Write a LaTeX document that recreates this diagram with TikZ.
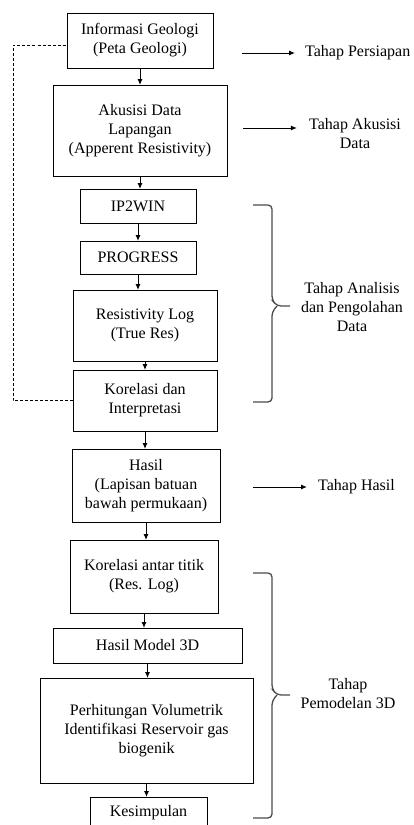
\documentclass[tikz,border=0pt]{standalone}
\usepackage{fontspec}
\setmainfont{Liberation Serif}
\usetikzlibrary{positioning}
\usetikzlibrary{arrows.meta}

\tikzset{
    stepbox/.style = {draw, line width = 1pt, outer sep = 0pt, align = center, inner sep = 2pt, font = \fontsize{16}{19}\selectfont},
    stagelabel/.style = {align = center, inner sep = 0pt, font = \fontsize{16}{19}\selectfont},
    flow/.style = {-{Latex[length=6pt,width=5pt]}, line width = 1pt},
    bracket/.style = {black!70, line width = 1.3pt, rounded corners = 4pt},
}

\begin{document}
\begin{tikzpicture}[x = 1pt, y = 1pt]
    \useasboundingbox[clip] (0,0) rectangle (413,-825);

    % main column
    \node (info) at (140,-40.5) [stepbox, minimum width = 146pt, minimum height = 55pt] {Informasi Geologi\\(Peta Geologi)};
    \node (akusisi) [stepbox, below = 17pt of info, minimum width = 174pt, minimum height = 91pt] {Akusisi Data\\Lapangan\\(Apperent Resistivity)};
    \node (ipwin) [stepbox, below = 13pt of akusisi, xshift = -2pt, minimum width = 116pt, minimum height = 34pt] {IP2WIN};
    \node (progress) [stepbox, below = 18pt of ipwin, minimum width = 116pt, minimum height = 33pt] {PROGRESS};
    \node (reslog) [stepbox, below = 16pt of progress, xshift = 7pt, minimum width = 144pt, minimum height = 71pt] {Resistivity Log\\(True Res)};
    \node (korelasi) [stepbox, below = 9pt of reslog, minimum width = 144pt, minimum height = 61pt] {Korelasi dan\\Interpretasi};
    \node (hasil) [stepbox, below = 18pt of korelasi, xshift = 1pt, minimum width = 148pt, minimum height = 73pt] {Hasil\\(Lapisan batuan\\bawah permukaan)};
    \node (antartitik) [stepbox, below = 18pt of hasil, xshift = -2pt, minimum width = 148pt, minimum height = 73pt] {Korelasi antar titik\\(Res. Log)};
    \node (model) [stepbox, below = 15pt of antartitik, xshift = 3.5pt, minimum width = 189pt, minimum height = 35pt] {Hasil Model 3D};
    \node (volume) [stepbox, below = 15pt of model, xshift = -1pt, minimum width = 213pt, minimum height = 105pt] {Perhitungan Volumetrik\\Identifikasi Reservoir gas\\biogenik};
    \node (simpulan) [stepbox, below = 14pt of volume, xshift = 2pt, minimum width = 117pt, minimum height = 32pt] {Kesimpulan};

    \draw[flow] (info) -- (info |- akusisi.north);
    \draw[flow] (akusisi) -- (akusisi |- ipwin.north);
    \draw[flow] (ipwin) -- (ipwin |- progress.north);
    \draw[flow] (progress) -- (progress |- reslog.north);
    \draw[flow] (reslog) -- (reslog |- korelasi.north);
    \draw[flow] (korelasi) -- (korelasi |- hasil.north);
    \draw[flow] (hasil) -- (hasil |- antartitik.north);
    \draw[flow] (antartitik) -- (antartitik |- model.north);
    \draw[flow] (model) -- (model |- volume.north);
    \draw[flow] (volume) -- (volume |- simpulan.north);

    % feedback
    \draw[line width = 1pt, dash pattern = on 3pt off 2pt] (korelasi.west) -- ++(-60pt,0) |- ([yshift=-4.5pt]info.west);

    % stage labels
    \coordinate (a1) at (242,-53);
    \node (persiapan) [stagelabel, anchor = west] at (305,-53) {Tahap Persiapan};
    \draw[flow, shorten > = 10pt] (a1) -- (a1 -| persiapan.west);

    \coordinate (a2) at (243,-128);
    \node (tahapakusisi) [stagelabel] at (355,-134) {Tahap Akusisi\\Data};
    \draw[flow, shorten > = 12pt] (a2) -- (a2 -| tahapakusisi.west);

    \coordinate (a3) at (253,-487);
    \node (tahaphasil) [stagelabel, anchor = west] at (318,-487) {Tahap Hasil};
    \draw[flow, shorten > = 11pt] (a3) -- (a3 -| tahaphasil.west);

    \node (analisis) [stagelabel] at (352,-307) {Tahap Analisis\\dan Pengolahan\\Data};
    \draw[bracket] (253,-205) -| (272,-300) -- (277,-306) -- (290,-306);
    \draw[bracket] (277,-306) -- (272,-312) |- (253,-402);

    \node (pemodelan) [stagelabel] at (348,-693.5) {Tahap\\Pemodelan 3D};
    \draw[bracket] (253,-573) -| (272,-689) -- (277,-695) -- (290,-695);
    \draw[bracket] (277,-695) -- (272,-701) |- (253,-818);
\end{tikzpicture}
\end{document}
